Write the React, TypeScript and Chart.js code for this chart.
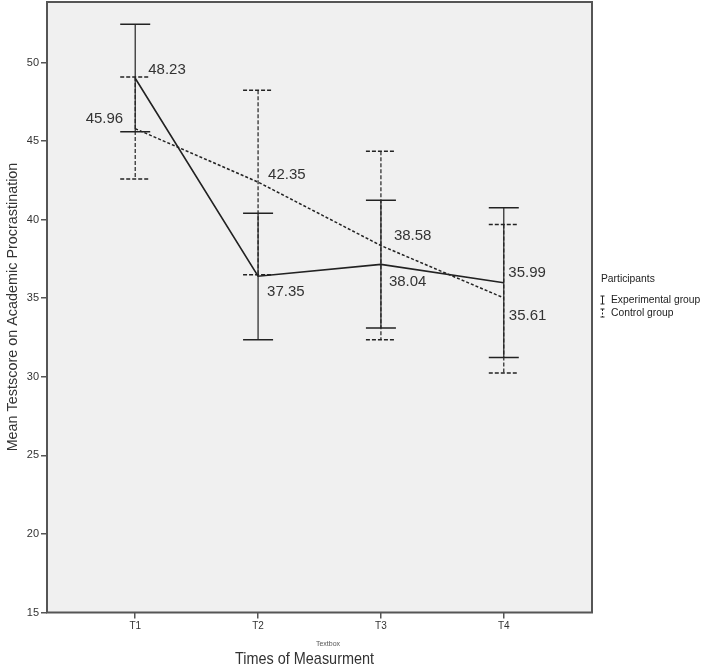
import React, { useEffect, useRef } from 'react';
import { Chart, registerables } from 'chart.js';

Chart.register(...registerables);

// ---- data ----
const categories = ['T1', 'T2', 'T3', 'T4'];
const experimentalMean = [49.0, 36.4, 37.15, 35.98];
const experimentalLower = [45.6, 32.35, 33.1, 31.23];
const experimentalUpper = [52.44, 40.41, 41.24, 40.76];
const controlMean = [45.79, 42.39, 38.35, 35.02];
const controlLower = [42.58, 36.49, 32.36, 30.24];
const controlUpper = [49.08, 48.23, 44.36, 39.69];
const experimentalLabels = ['48.23', '37.35', '38.04', '35.99'];
const controlLabels = ['45.96', '42.35', '38.58', '35.61'];
const yTicks = [15, 20, 25, 30, 35, 40, 45, 50];
const seriesNames = ['Experimental group', 'Control group'];
const legendTitle = 'Participants';
const xTitle = 'Times of Measurment';
const yTitle = 'Mean Testscore on Academic Procrastination';
const textboxNote = 'Textbox';

// ---- styles ----
const LINE = '#222222';
const TEXT = '#333333';
const FRAME = '#555555';
const SANS = '"Liberation Sans", Arial, sans-serif';
const expOffsets: [number, number, CanvasTextAlign][] = [
  [13, -8, 'left'], [9, 16, 'left'], [8, 17, 'left'], [4.5, -10, 'left'],
];
const ctrlOffsets: [number, number, CanvasTextAlign][] = [
  [-12, -10, 'right'], [10, -7, 'left'], [13, -10, 'left'], [5, 18, 'left'],
];

function drawErrorBar(ctx: CanvasRenderingContext2D, x: number, yLo: number, yHi: number, dashed: boolean) {
  ctx.save();
  ctx.strokeStyle = LINE;
  ctx.setLineDash(dashed ? [4, 2] : []);
  ctx.lineWidth = 1.2;
  ctx.beginPath();
  ctx.moveTo(x, yHi);
  ctx.lineTo(x, yLo);
  ctx.stroke();
  ctx.lineWidth = 1.5;
  ctx.beginPath();
  ctx.moveTo(x - 15, yHi);
  ctx.lineTo(x + 15, yHi);
  ctx.moveTo(x - 15, yLo);
  ctx.lineTo(x + 15, yLo);
  ctx.stroke();
  ctx.restore();
}

const decorPlugin = {
  id: 'decor',
  beforeDraw(chart: any) {
    const { ctx, chartArea: a } = chart;
    ctx.save();
    ctx.fillStyle = '#ffffff';
    ctx.fillRect(0, 0, chart.width, chart.height);
    ctx.fillStyle = '#f0f0f0';
    ctx.fillRect(a.left, a.top, a.right - a.left, a.bottom - a.top);
    ctx.restore();
  },
  afterDatasetsDraw(chart: any) {
    const { ctx } = chart;
    const xs = chart.scales.x;
    const ys = chart.scales.y;
    categories.forEach((_, i) => {
      const x = xs.getPixelForValue(i);
      drawErrorBar(ctx, x, ys.getPixelForValue(controlLower[i]), ys.getPixelForValue(controlUpper[i]), true);
      drawErrorBar(ctx, x, ys.getPixelForValue(experimentalLower[i]), ys.getPixelForValue(experimentalUpper[i]), false);
    });
    ctx.save();
    ctx.fillStyle = TEXT;
    ctx.font = `15px ${SANS}`;
    ctx.textBaseline = 'middle';
    categories.forEach((_, i) => {
      const x = xs.getPixelForValue(i);
      const [dx, dy, al] = expOffsets[i];
      ctx.textAlign = al;
      ctx.fillText(experimentalLabels[i], x + dx, ys.getPixelForValue(experimentalMean[i]) + dy);
      const [cx, cy, cal] = ctrlOffsets[i];
      ctx.textAlign = cal;
      ctx.fillText(controlLabels[i], x + cx, ys.getPixelForValue(controlMean[i]) + cy);
    });
    ctx.restore();
  },
  afterDraw(chart: any) {
    const { ctx, chartArea: a } = chart;
    ctx.save();
    // frame
    ctx.strokeStyle = FRAME;
    ctx.lineWidth = 2;
    ctx.strokeRect(a.left, a.top, a.right - a.left, a.bottom - a.top);
    // axis titles
    ctx.fillStyle = TEXT;
    ctx.textAlign = 'center';
    ctx.textBaseline = 'middle';
    ctx.save();
    ctx.translate(304.5, 659);
    ctx.scale(0.85, 1);
    ctx.font = `17px ${SANS}`;
    ctx.fillText(xTitle, 0, 0);
    ctx.restore();
    ctx.font = `7px ${SANS}`;
    ctx.fillStyle = '#555';
    ctx.fillText(textboxNote, 328, 644);
    ctx.fillStyle = TEXT;
    ctx.save();
    ctx.translate(13, 307);
    ctx.rotate(-Math.PI / 2);
    ctx.font = `14.4px ${SANS}`;
    ctx.fillText(yTitle, 0, 0);
    ctx.restore();
    // legend
    const lx = a.right + 9;
    ctx.textAlign = 'left';
    ctx.font = `10.3px ${SANS}`;
    ctx.fillStyle = '#222';
    ctx.fillText(legendTitle, lx, 279);
    const rows = [300, 313];
    rows.forEach((ry, k) => {
      const ix = lx + 1.5;
      ctx.strokeStyle = LINE;
      ctx.lineWidth = 1;
      ctx.setLineDash(k === 1 ? [2, 1.5] : []);
      ctx.beginPath();
      ctx.moveTo(ix, ry - 4);
      ctx.lineTo(ix, ry + 4);
      ctx.stroke();
      ctx.setLineDash([]);
      ctx.beginPath();
      ctx.moveTo(ix - 2, ry - 4);
      ctx.lineTo(ix + 2, ry - 4);
      ctx.moveTo(ix - 2, ry + 4);
      ctx.lineTo(ix + 2, ry + 4);
      ctx.stroke();
      ctx.fillText(seriesNames[k], lx + 10, ry);
    });
    ctx.restore();
  },
};

export default function App() {
  const ref = useRef<HTMLCanvasElement | null>(null);
  useEffect(() => {
    document.body.style.margin = '0';
    const canvas = ref.current;
    if (!canvas) return;
    const chart = new Chart(canvas, {
      type: 'line',
      data: {
        datasets: [
          {
            label: seriesNames[1],
            data: controlMean.map((v, i) => ({ x: i, y: v })),
            borderColor: LINE,
            borderWidth: 1.5,
            borderDash: [3, 2],
            pointRadius: 0,
            tension: 0,
            fill: false,
          },
          {
            label: seriesNames[0],
            data: experimentalMean.map((v, i) => ({ x: i, y: v })),
            borderColor: LINE,
            borderWidth: 1.6,
            pointRadius: 0,
            tension: 0,
            fill: false,
          },
        ],
      },
      options: {
        animation: false,
        responsive: false,
        devicePixelRatio: 1,
        layout: { padding: { left: 0, top: 2, right: 116, bottom: 0 } },
        plugins: { legend: { display: false }, tooltip: { enabled: false } },
        scales: {
          x: {
            type: 'linear',
            min: -0.718,
            max: 3.718,
            afterBuildTicks: (s: any) => {
              s.ticks = categories.map((_, i) => ({ value: i }));
            },
            afterFit: (s: any) => {
              s.height = 669 - 612.5;
              s.paddingLeft = 0;
              s.paddingRight = 0;
              s.paddingTop = 0;
              s.paddingBottom = 0;
            },
            ticks: {
              callback: (v: any) => categories[v] ?? '',
              font: { family: SANS, size: 10 },
              color: TEXT,
              padding: 2,
              maxRotation: 0,
              autoSkip: false,
            },
            grid: { drawOnChartArea: false, drawTicks: true, tickLength: 6, color: FRAME, lineWidth: 1.5 },
            border: { display: false },
          },
          y: {
            type: 'linear',
            min: 15,
            max: 53.85,
            afterBuildTicks: (s: any) => {
              s.ticks = yTicks.map((v) => ({ value: v }));
            },
            afterFit: (s: any) => {
              s.width = 47;
              s.paddingTop = 0;
              s.paddingBottom = 0;
              s.paddingLeft = 0;
              s.paddingRight = 0;
            },
            ticks: {
              font: { family: SANS, size: 11 },
              color: TEXT,
              padding: 2,
            },
            grid: { drawOnChartArea: false, drawTicks: true, tickLength: 6, color: FRAME, lineWidth: 1.5 },
            border: { display: false },
          },
        },
      },
      plugins: [decorPlugin],
    });
    return () => chart.destroy();
  }, []);
  return (
    <div style={{ width: 708, height: 669 }}>
      <canvas ref={ref} width={708} height={669} style={{ display: 'block' }} />
    </div>
  );
}
